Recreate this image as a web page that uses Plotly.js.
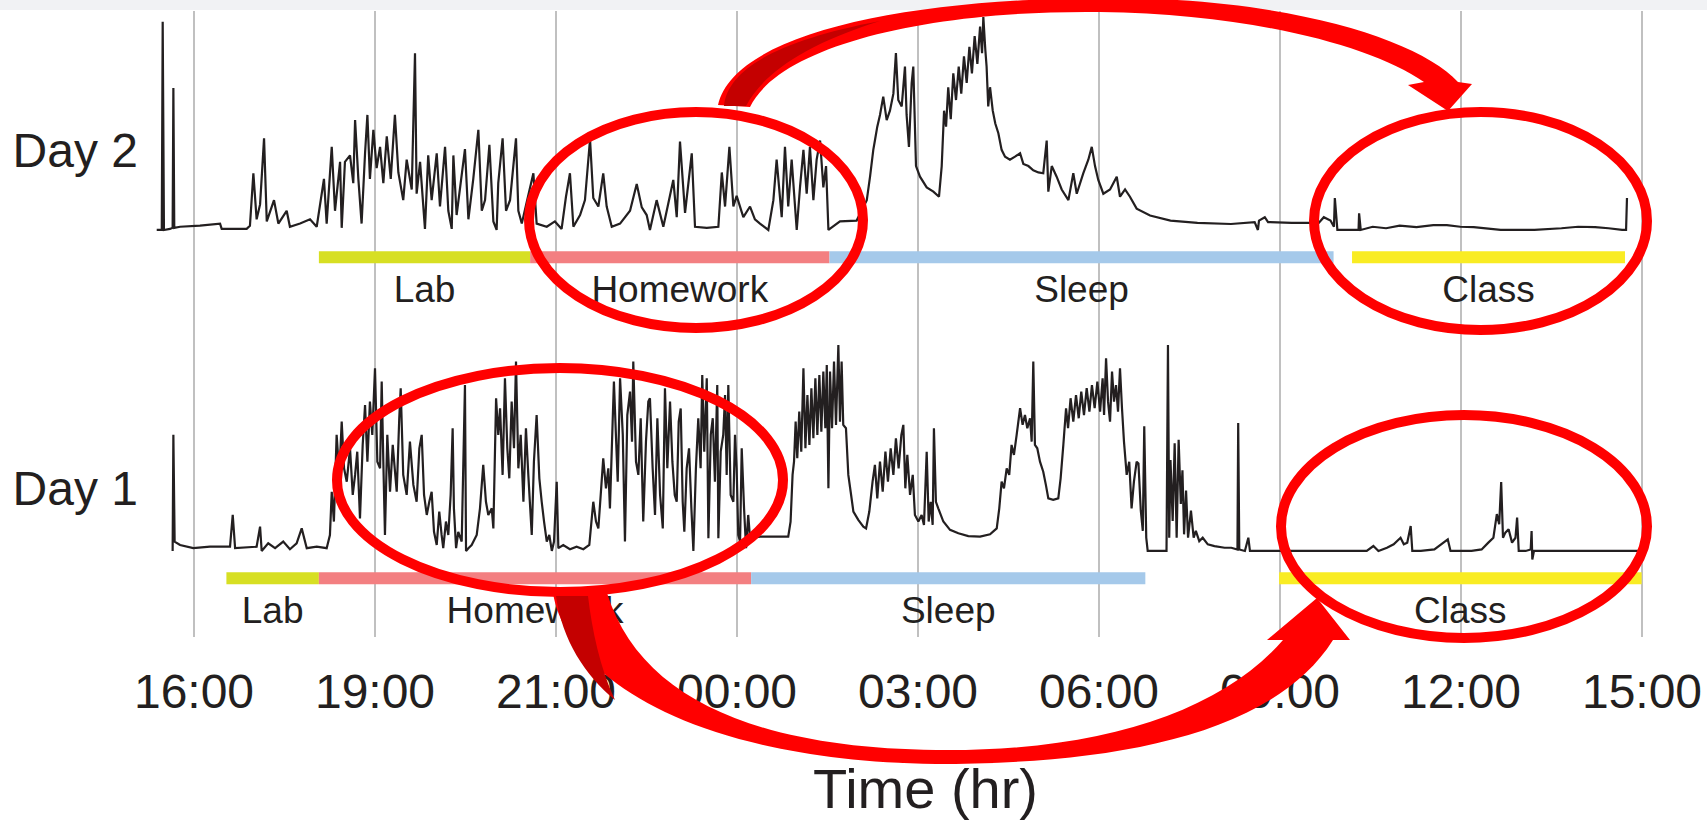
<!DOCTYPE html>
<html>
<head>
<meta charset="utf-8">
<script src="https://cdn.plot.ly/plotly-3.0.1.min.js"></script>
<style>
html,body{margin:0;padding:0;background:#fff;}
#chart{width:1707px;height:823px;}
</style>
</head>
<body>
<div id="chart"></div>
<script>
// ---------------- DATA ----------------
const tickPos = [0, 1, 2, 3, 4, 5, 6, 7, 8];
const tickLabels = ['16:00', '19:00', '21:00', '00:00', '03:00', '06:00', '09:00', '12:00', '15:00'];
const xTitle = 'Time (hr)';

const activityNames = ['Lab', 'Homework', 'Sleep', 'Class'];
const day2Start = [0.69, 1.857, 3.511, 6.398];
const day2End   = [1.857, 3.511, 6.296, 7.906];
const day1Start = [0.179, 0.69, 3.078, 5.995];
const day1End   = [0.69, 3.078, 5.256, 7.998];

const dayLabels = ['Day 1', 'Day 2'];

// [time (grid units), activity level]
const day2Samples = [
[-0.206,0],[-0.178,0],[-0.173,97.8],[-0.166,0],[-0.133,0.5],[-0.118,1],[-0.114,66.7],[-0.109,1],[-0.077,1.5],
[0.033,2],[0.144,3],[0.153,0.5],[0.291,0.5],[0.309,2],[0.328,26.6],[0.346,5],[0.365,12],[0.387,43],[0.402,4],
[0.442,14],[0.466,3],[0.512,9],[0.53,1.5],[0.586,3],[0.641,5],[0.678,1.5],[0.718,24],[0.733,3],[0.761,39],
[0.779,9],[0.807,32],[0.816,1],[0.834,32],[0.862,35],[0.88,22],[0.89,51.6],[0.908,24],[0.926,3],[0.945,36],
[0.958,54],[0.972,24],[0.991,47],[1.009,29],[1.028,39],[1.046,22],[1.065,44],[1.087,24],[1.11,54],[1.129,27],
[1.156,14],[1.175,33],[1.203,19],[1.221,83],[1.23,17],[1.249,32],[1.276,0.5],[1.294,35],[1.313,14],[1.341,36],
[1.359,11],[1.387,39],[1.405,9],[1.424,0.5],[1.433,35],[1.451,7],[1.497,38],[1.516,5],[1.543,24],[1.571,47],
[1.59,9],[1.608,14],[1.632,40],[1.654,4],[1.672,0],[1.681,22],[1.705,43],[1.724,9],[1.746,14],[1.779,43],
[1.792,9],[1.811,3],[1.875,26.6],[1.893,3],[1.949,1.5],[1.994,4],[2.031,0.5],[2.055,15.6],[2.077,26.6],[2.096,1.5],
[2.133,7],[2.16,14],[2.188,42.6],[2.206,15],[2.234,11],[2.261,26.6],[2.28,11],[2.308,1.5],[2.354,3],[2.409,9],
[2.446,21.6],[2.474,10.6],[2.501,7],[2.519,0],[2.556,14],[2.593,1.5],[2.648,23.5],[2.667,6],[2.685,41.5],[2.713,8],
[2.75,36],[2.768,1.5],[2.833,1],[2.897,1.5],[2.916,27],[2.934,11],[2.958,39],[2.98,11],[2.998,16],[3.035,6],
[3.072,11],[3.099,5],[3.127,3],[3.173,0],[3.201,14],[3.219,33],[3.247,6],[3.265,39],[3.283,11],[3.302,33],
[3.33,0],[3.348,20],[3.367,37.6],[3.385,17],[3.403,39],[3.422,14],[3.44,33],[3.459,42],[3.477,20],[3.492,30],
[3.505,0],[3.569,4],[3.661,4.4],[3.717,14],[3.735,25],[3.753,37.6],[3.762,42],[3.775,48.5],[3.79,54],[3.808,62.6],
[3.827,51.6],[3.845,56],[3.864,64],[3.878,83],[3.891,61],[3.91,58],[3.928,76.7],[3.937,54],[3.95,39],[3.965,69],
[3.974,76.7],[3.989,30],[4.011,25],[4.048,20],[4.085,18],[4.116,15.6],[4.131,30],[4.144,56],[4.155,48.5],[4.167,67],
[4.181,52],[4.195,73.5],[4.21,61],[4.225,76.7],[4.239,64],[4.254,81.5],[4.269,69],[4.284,86],[4.298,73.5],[4.313,91],
[4.328,78],[4.343,95.5],[4.354,83],[4.361,100],[4.372,84.5],[4.379,76.7],[4.388,58],[4.398,67],[4.413,56],[4.427,50],
[4.444,45.4],[4.462,37.6],[4.481,34.4],[4.508,33],[4.536,34.4],[4.564,36],[4.582,31],[4.61,30],[4.637,28],[4.665,27],
[4.692,26.6],[4.711,42],[4.72,18],[4.739,30],[4.766,25],[4.794,19],[4.831,14],[4.858,26.6],[4.877,17],[4.913,26.6],
[4.941,33],[4.96,39],[4.978,30],[4.996,23.5],[5.024,17],[5.061,19],[5.098,25],[5.116,15.6],[5.144,19],[5.171,15.6],
[5.208,10],[5.282,6.8],[5.395,4.4],[5.544,3.3],[5.729,2.8],[5.86,3.7],[5.878,0],[5.884,4.4],[5.916,6],[5.934,3.7],
[6.065,3.3],[6.214,3.3],[6.242,6],[6.279,4.4],[6.298,1.5],[6.303,15],[6.317,0],[6.4,0],[6.434,0],[6.437,7.8],
[6.446,0],[6.512,1.5],[6.586,0.8],[6.661,2],[6.754,1.3],[6.847,2.3],[6.922,2.3],[6.996,1.5],[7.07,1.3],[7.219,0],
[7.406,0],[7.555,0.8],[7.647,1.5],[7.741,1.3],[7.815,0.8],[7.89,0],[7.912,0],[7.917,15]
];

const day1Samples = [
[-0.118,0],[-0.114,54.5],[-0.107,4.4],[-0.077,2.8],[-0.004,1.3],[0.088,2],[0.199,2],[0.214,16.9],[0.227,1.3],
[0.346,2],[0.365,11.4],[0.374,0],[0.41,3.6],[0.448,1.3],[0.493,4.4],[0.53,0.8],[0.567,3.6],[0.595,10.6],[0.623,1.3],
[0.678,2],[0.733,1.3],[0.751,7.5],[0.761,27.8],[0.773,13.8],[0.788,54.5],[0.803,35.7],[0.816,60.7],[0.829,38.8],
[0.844,32.5],[0.862,48.2],[0.877,26.3],[0.89,35.7],[0.902,46.6],[0.917,15.3],[0.932,49.8],[0.945,68.5],[0.958,41.9],
[0.972,70.1],[0.985,54.5],[1.0,85.8],[1.013,41.9],[1.028,38.8],[1.037,79.5],[1.046,41.9],[1.055,7.5],[1.068,54.5],
[1.083,27.8],[1.098,49.8],[1.12,27.8],[1.134,62.3],[1.142,76.4],[1.156,35.7],[1.175,26.3],[1.193,51.3],[1.212,31],
[1.23,23.1],[1.245,48.2],[1.258,54.5],[1.271,26.3],[1.286,16.9],[1.3,23.1],[1.313,27.8],[1.326,9],[1.341,2.8],
[1.355,18.5],[1.368,7.5],[1.377,1.3],[1.392,13.8],[1.405,7.5],[1.418,26.3],[1.429,57.6],[1.436,20],[1.448,1.3],
[1.46,9],[1.479,4.4],[1.497,77.9],[1.503,0],[1.516,1.3],[1.534,2.8],[1.562,7.5],[1.58,20],[1.598,40.4],[1.613,23.1],
[1.626,16.9],[1.645,20],[1.654,10.6],[1.669,71.7],[1.681,54.5],[1.691,67],[1.705,35.7],[1.718,81.1],[1.731,48.2],
[1.742,34.1],[1.755,70.1],[1.768,48.2],[1.779,88.9],[1.792,38.8],[1.805,54.5],[1.82,23.1],[1.834,57.6],[1.847,35.7],
[1.866,7.5],[1.878,41.9],[1.893,63.8],[1.908,34.1],[1.921,23.1],[1.934,13.8],[1.949,4.4],[1.963,7.5],[1.977,0],
[1.989,4.4],[2.004,32.5],[2.013,1.3],[2.04,2.8],[2.077,0.8],[2.114,2],[2.151,0.8],[2.184,2.8],[2.206,23.1],
[2.221,13.8],[2.234,10.6],[2.247,26.3],[2.261,43.5],[2.276,29.4],[2.289,38.8],[2.298,20],[2.313,60.7],[2.32,79.5],
[2.331,54.5],[2.341,32.5],[2.354,81.1],[2.369,54.5],[2.381,4.4],[2.394,63.8],[2.409,74.8],[2.42,51.3],[2.427,88.9],
[2.442,41.9],[2.455,35.7],[2.468,62.3],[2.482,13.8],[2.497,51.3],[2.51,70.1],[2.519,71.7],[2.534,38.8],[2.547,16.9],
[2.56,62.3],[2.575,26.3],[2.59,10.6],[2.602,76.4],[2.615,38.8],[2.63,70.1],[2.643,41.9],[2.656,26.3],[2.667,23.1],
[2.678,60.7],[2.689,66.9],[2.7,23.1],[2.709,9],[2.722,38.8],[2.735,48.2],[2.748,20],[2.759,0],[2.773,38.8],
[2.786,62.3],[2.799,38.8],[2.808,82.6],[2.819,46.6],[2.833,81.1],[2.842,6],[2.855,54.5],[2.866,62.3],[2.878,32.5],
[2.891,77.9],[2.897,6],[2.91,46.6],[2.924,54.5],[2.934,73.2],[2.943,35.7],[2.952,77.9],[2.965,26.3],[2.98,23.1],
[2.989,54.5],[2.998,38.8],[3.007,7.5],[3.017,4.4],[3.026,48.2],[3.039,20],[3.05,1.3],[3.062,16.9],[3.072,6],
[3.127,6.7],[3.201,6.7],[3.283,6.7],[3.296,13.8],[3.307,35.7],[3.315,41.9],[3.324,60.7],[3.333,43.5],[3.344,65.4],
[3.355,46.6],[3.367,85.8],[3.378,48.2],[3.389,73.2],[3.4,49.8],[3.411,76.4],[3.422,52.9],[3.433,81.1],[3.444,54.5],
[3.455,82.6],[3.466,56],[3.477,84.2],[3.488,57.6],[3.496,87.3],[3.505,29.4],[3.514,84.2],[3.525,57.6],[3.536,88.9],
[3.547,59.2],[3.56,96.7],[3.569,60.7],[3.578,88.9],[3.587,59.2],[3.602,57.6],[3.615,35.7],[3.628,27.8],[3.643,18.5],
[3.67,14.6],[3.698,11.4],[3.713,10.6],[3.731,18.5],[3.749,32.5],[3.762,40.4],[3.775,24.7],[3.79,41.9],[3.805,27.8],
[3.82,46.6],[3.834,32.5],[3.849,48.2],[3.864,35.7],[3.878,52.9],[3.893,38.8],[3.908,54.5],[3.919,59.2],[3.93,29.4],
[3.941,45.1],[3.956,26.3],[3.971,35.7],[3.983,16.9],[4.002,13.8],[4.02,16.9],[4.033,12.2],[4.048,46.6],[4.059,13.8],
[4.07,23.1],[4.081,12.2],[4.088,57.6],[4.099,23.1],[4.112,20],[4.14,13.8],[4.177,9.9],[4.223,8.3],[4.278,7],
[4.343,6.7],[4.398,7.8],[4.435,10.6],[4.449,20],[4.462,32.5],[4.475,29.4],[4.49,38.8],[4.504,35.7],[4.517,49.8],
[4.53,45.1],[4.545,54.5],[4.564,67],[4.578,59.2],[4.591,63.8],[4.604,57.6],[4.619,62.3],[4.628,51.3],[4.637,88.9],
[4.646,49.8],[4.659,48.2],[4.674,41.9],[4.692,37.2],[4.707,30.8],[4.72,24.7],[4.747,24],[4.775,24.7],[4.788,34.1],
[4.803,49.8],[4.818,67],[4.829,57.6],[4.843,71.7],[4.858,60.7],[4.873,73.2],[4.888,62.3],[4.902,74.8],[4.917,63.8],
[4.932,76.4],[4.947,65.4],[4.961,77.9],[4.976,67],[4.991,79.5],[5.006,65.4],[5.02,81.1],[5.028,63.8],[5.039,90.5],
[5.05,70.1],[5.061,60.7],[5.072,84.2],[5.083,70.1],[5.094,77.9],[5.105,65.4],[5.116,85.8],[5.127,67],[5.138,51.3],
[5.153,35.7],[5.167,41.9],[5.18,20],[5.193,32.5],[5.208,41.9],[5.218,41.1],[5.231,18.9],[5.242,9.4],[5.25,58.5],
[5.261,6.2],[5.269,0],[5.373,0],[5.381,96.7],[5.388,6.2],[5.395,42.7],[5.407,14.1],[5.418,50.6],[5.429,6.2],
[5.44,52.2],[5.452,22.1],[5.461,37.9],[5.47,7.8],[5.481,28.4],[5.492,6.2],[5.508,18.9],[5.523,6.2],[5.535,9.4],
[5.554,4.6],[5.573,6.2],[5.601,3.1],[5.638,2.3],[5.694,1.5],[5.731,1.5],[5.765,0.7],[5.769,60.1],[5.775,0.7],
[5.806,0],[5.825,6.2],[5.834,0],[5.918,0],[6.012,0],[6.105,0],[6.198,0],[6.292,0],[6.385,0],[6.479,0],[6.516,2.3],
[6.544,0],[6.591,1.5],[6.628,3.1],[6.666,6.2],[6.684,3.1],[6.703,3.9],[6.722,11.7],[6.731,0],[6.778,0],[6.853,0.7],
[6.927,5.4],[6.942,0],[7.002,0],[7.058,0],[7.114,0.7],[7.151,3.9],[7.179,6.2],[7.198,17.3],[7.211,12.5],[7.222,32.4],
[7.232,6.2],[7.245,8.6],[7.263,10.2],[7.282,3.9],[7.301,6.2],[7.31,15.7],[7.319,0],[7.357,0],[7.385,0.7],[7.39,9.3],
[7.394,-4],[7.403,0],[7.982,0]
];

// ---------------- STYLE / LAYOUT ----------------
const W = 1707, H = 823;
const M = {l: 143, r: 0, t: 11, b: 186};
const FONT = 'Liberation Sans, Arial, sans-serif';
const INK = '#231f20';
const activityColors = {Lab: '#d7df23', Homework: '#f37f81', Sleep: '#a5c9ea', Class: '#f9ec23'};
const BAR_LEVEL = -12.8, LABEL_LEVEL = -29.7;

const traces = [];
function addDay(samples, yax) {
  traces.push({
    type: 'scatter', mode: 'lines', xaxis: 'x', yaxis: yax,
    x: samples.map(p => p[0]), y: samples.map(p => p[1]),
    line: {color: INK, width: 2.2, simplify: false},
    hoverinfo: 'skip'
  });
}
function addActivities(starts, ends, yax) {
  activityNames.forEach((name, i) => {
    traces.push({
      type: 'scatter', mode: 'lines', xaxis: 'x', yaxis: yax,
      x: [starts[i], ends[i]], y: [BAR_LEVEL, BAR_LEVEL],
      line: {color: activityColors[name], width: 12}, hoverinfo: 'skip'
    });
  });
  traces.push({
    type: 'scatter', mode: 'text', xaxis: 'x', yaxis: yax,
    x: activityNames.map((n, i) => (starts[i] + ends[i]) / 2),
    y: activityNames.map(() => LABEL_LEVEL),
    text: activityNames, textposition: 'middle center',
    textfont: {family: FONT, size: 37, color: INK}, hoverinfo: 'skip'
  });
}
addActivities(day1Start, day1End, 'y');
addActivities(day2Start, day2End, 'y2');
addDay(day1Samples, 'y');
addDay(day2Samples, 'y2');

// pixel -> paper helpers for the red overlay drawing
const PW = W - M.l - M.r, PH = H - M.t - M.b;
const px = x => (x - M.l) / PW;
const py = y => (H - M.b - y) / PH;
function P(str) {
  const tok = str.trim().split(/\s+/);
  let out = [], k = 0;
  tok.forEach(t => {
    if (/^[A-Za-z]$/.test(t)) { out.push(t); k = 0; }
    else { const v = parseFloat(t); out.push((k % 2 === 0 ? px(v) : py(v)).toFixed(5)); k++; }
  });
  return out.join(' ');
}
const RED = '#ff0000', DARKRED = '#c40000';
function ellipse(x0, x1, y0, y1) {
  return {type: 'circle', xref: 'paper', yref: 'paper', x0: px(x0), x1: px(x1), y0: py(y1), y1: py(y0),
          line: {color: RED, width: 10}, fillcolor: 'rgba(0,0,0,0)'};
}
function blob(d, color) {
  return {type: 'path', xref: 'paper', yref: 'paper', path: P(d), fillcolor: color, line: {width: 0}};
}
const shapes = [
  {type: 'rect', xref: 'paper', yref: 'paper', x0: px(0), x1: px(W), y0: py(10), y1: py(0),
   fillcolor: '#f1f2f4', line: {width: 0}, layer: 'below'},
  ellipse(529, 863, 112, 328),
  ellipse(1314, 1647, 112, 330),
  ellipse(337, 783, 368, 592),
  ellipse(1281, 1647, 415, 638),
  blob('M 718 105 C 735 30 920 -2 1110 -2 C 1290 -2 1420 40 1458 82 L 1472 84 L 1448 111 L 1408 85 L 1424 82 C 1370 45 1250 14 1100 12 C 930 10 780 45 750 107 Z', RED),
  blob('M 724 106 C 728 68 780 40 880 21 C 800 46 762 76 746 106 Z', DARKRED),
  blob('M 553 593 C 565 670 680 760 936 764 C 1100 764 1270 740 1333 640 L 1350 640 L 1317 598 L 1267 640 L 1283 640 C 1220 712 1100 752 936 750 C 760 748 640 700 607 593 Z', RED),
  blob('M 556 596 C 562 640 585 675 615 700 C 600 668 592 630 588 596 Z', DARKRED)
];

const axisY = {
  showgrid: false, zeroline: false, showline: false, ticks: '',
  tickfont: {family: FONT, size: 48, color: INK}, ticklabelstandoff: 4, fixedrange: true
};

const layout = {
  width: W, height: H, margin: M,
  paper_bgcolor: '#ffffff', plot_bgcolor: '#ffffff',
  showlegend: false, hovermode: false,
  xaxis: {
    range: [(M.l - 194) / 181, (W - 194) / 181],
    tickvals: tickPos, ticktext: tickLabels,
    showgrid: true, gridcolor: '#c0c0c0', gridwidth: 2.5,
    zeroline: false, showline: false, ticks: '',
    tickfont: {family: FONT, size: 48, color: INK},
    ticklabelstandoff: 22,
    automargin: false, fixedrange: true
  },
  yaxis: Object.assign({}, axisY, {
    range: [-40.4, 253.5], tickvals: [29.3], ticktext: [dayLabels[0]], automargin: false
  }),
  yaxis2: Object.assign({}, axisY, {
    range: [-191.1, 102.8], tickvals: [37.3], ticktext: [dayLabels[1]],
    overlaying: 'y', side: 'left', automargin: false
  }),
  annotations: [{
    xref: 'paper', yref: 'paper', x: 0.5, y: py(788), xanchor: 'center', yanchor: 'middle',
    text: xTitle, showarrow: false, font: {family: FONT, size: 56, color: INK}
  }],
  shapes: shapes
};

Plotly.newPlot('chart', traces, layout, {displayModeBar: false, staticPlot: true});
</script>
</body>
</html>
